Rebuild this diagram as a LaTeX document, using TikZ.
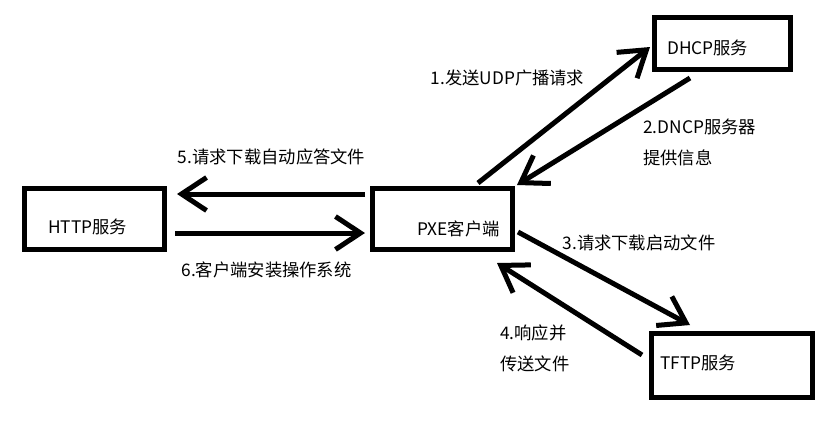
\documentclass[tikz,border=0pt]{standalone}
\usepackage{fontspec}
\setmainfont{Noto Sans CJK SC}
\usetikzlibrary{arrows.meta}
\tikzset{
  box/.style={draw, line width=5pt, inner sep=0pt},
  lbl/.style={font=\fontsize{17.3}{31}\selectfont, inner sep=0pt, text=black},
  arr/.style={line width=5pt, -{Straight Barb[length=25pt, width=33pt]}},
}
\begin{document}
\begin{tikzpicture}[x=1pt, y=-1pt]
\useasboundingbox (0,0) rectangle (838,424);
% boxes (outer size = minimum size + line width)
\node[box, minimum width=140pt, minimum height=61pt] (http) at (94.5,219) {};
\node[box, minimum width=140pt, minimum height=61pt] (pxe) at (442.5,219) {};
\node[box, minimum width=136pt, minimum height=52pt] (dhcp) at (722.5,43.5) {};
\node[box, minimum width=161pt, minimum height=64pt] (tftp) at (732,365.5) {};
% box texts
\node[lbl, anchor=west] (thttp) at (48,227) {HTTP服务};
\node[lbl, anchor=west] (tpxe) at (417,229) {PXE客户端};
\node[lbl, anchor=west] (tdhcp) at (667,48) {DHCP服务};
\node[lbl, anchor=west] (ttftp) at (660,363) {TFTP服务};
% connectors
\draw[arr] ([shift={(-5,-25)}]pxe.west) -- ([shift={(10,-25)}]http.east);
\draw[arr] ([shift={(8,14)}]http.east) -- ([shift={(-5,14)}]pxe.west);
\draw[arr] ([shift={(35.5,-3)}]pxe.north) -- ([shift={(-2,3.5)}]dhcp.west);
\draw[arr] ([shift={(-32.5,6)}]dhcp.south) -- ([shift={(2,-1)}]pxe.north east);
\draw[arr] ([shift={(3,13)}]pxe.east) -- ([shift={(-42,-6)}]tftp.north);
\draw[arr] ([shift={(-7,-10.5)}]tftp.west) -- ([shift={(54.5,11)}]pxe.south);
% connector labels
\node[lbl] (l5) at (271.5,157) {5.请求下载自动应答文件};
\node[lbl] (l6) at (266.5,270) {6.客户端安装操作系统};
\node[lbl] (l1) at (507.5,78) {1.发送UDP广播请求};
\node[lbl, anchor=west, align=left] (l2) at (643,142.5) {2.DNCP服务器\\提供信息};
\node[lbl] (l3) at (639,243) {3.请求下载启动文件};
\node[lbl, anchor=west, align=left] (l4) at (500,348) {4.响应并\\传送文件};
\end{tikzpicture}
\end{document}
